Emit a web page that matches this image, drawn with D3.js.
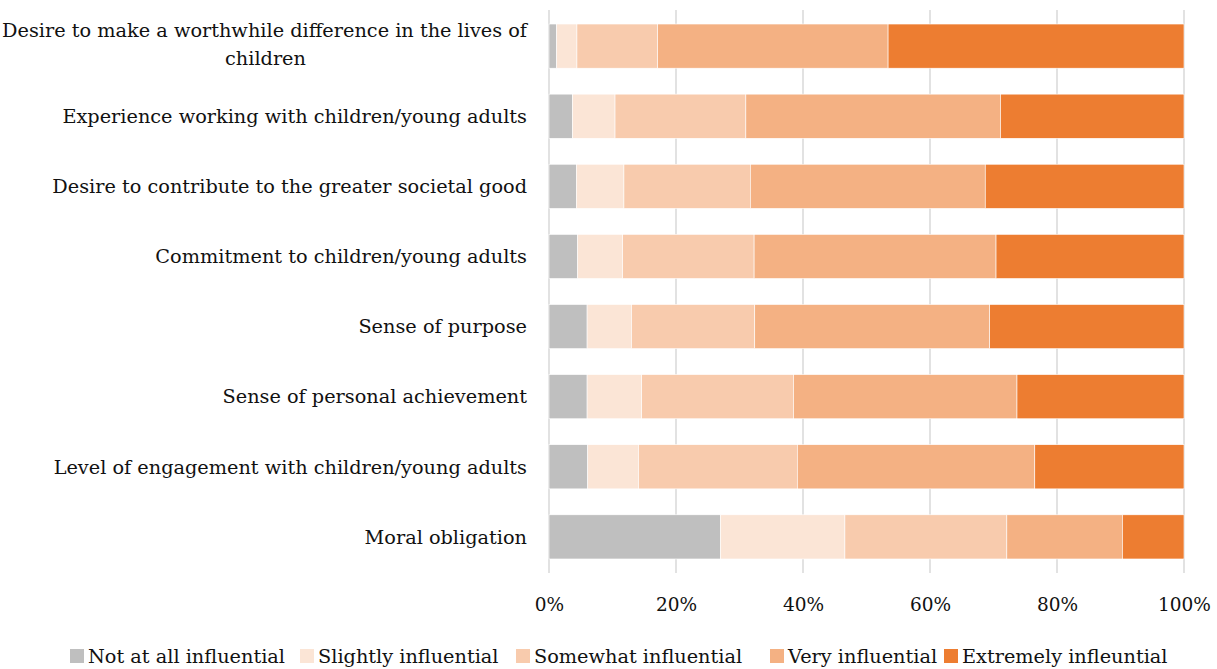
<!DOCTYPE html>
<html>
<head>
<meta charset="utf-8">
<script src="https://cdn.jsdelivr.net/npm/d3@7"></script>
<style>
  body { margin: 0; background: #fff; }
  text { font-family: "DejaVu Serif", serif; fill: #111; }
</style>
</head>
<body>
<div id="plot"></div>
<script>
// categories, top to bottom
var categories = [
  "Desire to make a worthwhile difference in the lives of children",
  "Experience working with children/young adults",
  "Desire to contribute to the greater societal good",
  "Commitment to children/young adults",
  "Sense of purpose",
  "Sense of personal achievement",
  "Level of engagement with children/young adults",
  "Moral obligation"
];

var seriesNames = ["Not at all influential", "Slightly influential", "Somewhat influential", "Very influential", "Extremely infleuntial"];
var seriesColors = ["#bfbfbf", "#fbe5d6", "#f8cbad", "#f4b183", "#ed7d31"];

// percentages
var notAtAll   = [1.2, 3.7, 4.3, 4.5, 6.0, 6.0, 6.1, 27.0];
var slightly   = [3.2, 6.7, 7.5, 7.1, 7.0, 8.6, 8.0, 19.6];
var somewhat   = [12.7, 20.6, 19.9, 20.7, 19.4, 23.9, 25.0, 25.5];
var very       = [36.3, 40.1, 37.0, 38.1, 37.0, 35.2, 37.4, 18.2];
var extremely  = [46.6, 28.9, 31.3, 29.6, 30.6, 26.3, 23.5, 9.7];

var xTicks = [0, 0.2, 0.4, 0.6, 0.8, 1];

var W = 1217, H = 669;
var margin = { top: 10, right: 33, bottom: 96, left: 549 },
    width = W - margin.left - margin.right,
    height = H - margin.top - margin.bottom;

var svg = d3.select("#plot").append("svg")
    .attr("width", W)
    .attr("height", H);

var g = svg.append("g")
    .attr("transform", "translate(" + margin.left + "," + margin.top + ")");

// build rows, normalised to 100%
var rows = categories.map(function (c, i) {
  var vals = [notAtAll[i], slightly[i], somewhat[i], very[i], extremely[i]];
  var tot = d3.sum(vals);
  var r = { cat: c };
  seriesNames.forEach(function (s, j) { r[s] = vals[j] / tot; });
  return r;
});

var stack = d3.stack().keys(seriesNames);
var layers = stack(rows);

var xScale = d3.scaleLinear().domain([0, 1]).range([0, width]);
var yScale = d3.scaleBand().domain(categories).range([0, height]).paddingInner(0.37).paddingOuter(0.2);

// gridlines
g.append("g").selectAll("line")
  .data(xTicks)
  .enter().append("line")
  .attr("x1", function (d) { return xScale(d); })
  .attr("x2", function (d) { return xScale(d); })
  .attr("y1", 0)
  .attr("y2", height)
  .attr("stroke", "#d9d9d9")
  .attr("stroke-width", 1.5);

// bars
g.append("g").selectAll("g")
  .data(layers)
  .enter().append("g")
  .attr("fill", function (d, i) { return seriesColors[i]; })
  .selectAll("rect")
  .data(function (d) { return d; })
  .enter().append("rect")
  .attr("x", function (d) { return xScale(d[0]); })
  .attr("y", function (d) { return yScale(d.data.cat); })
  .attr("width", function (d) { return xScale(d[1]) - xScale(d[0]); })
  .attr("height", yScale.bandwidth())
  .attr("stroke", "#fff")
  .attr("stroke-width", 0.6);

// x axis
var xAxis = d3.axisBottom(xScale).tickValues(xTicks).tickFormat(d3.format(".0%")).tickSize(0).tickPadding(25);
var xg = g.append("g")
  .attr("transform", "translate(0," + height + ")")
  .call(xAxis);
xg.select(".domain").remove();
xg.selectAll("text").style("font-size", "18.5px").style("font-family", "DejaVu Serif, serif").attr("fill", "#111");

// y labels
var fs = "19.3px";
var labelX = -22;
var yl = g.append("g");
categories.forEach(function (c, i) {
  var cy = yScale(c) + yScale.bandwidth() / 2;
  if (i === 0) {
    var t = yl.append("text")
      .attr("x", labelX)
      .attr("y", cy - 16)
      .attr("dy", "0.35em")
      .attr("text-anchor", "end")
      .style("font-size", fs)
      .text("Desire to make a worthwhile difference in the lives of");
    var bb = t.node().getBBox();
    yl.append("text")
      .attr("x", bb.x + bb.width / 2)
      .attr("y", cy + 12)
      .attr("dy", "0.35em")
      .attr("text-anchor", "middle")
      .style("font-size", fs)
      .text("children");
  } else {
    yl.append("text")
      .attr("x", labelX)
      .attr("y", cy)
      .attr("dy", "0.35em")
      .attr("text-anchor", "end")
      .style("font-size", fs)
      .text(c);
  }
});

// legend
var legendX = [70, 300, 516, 770, 944];
var legend = svg.append("g").attr("transform", "translate(0," + 656 + ")");
seriesNames.forEach(function (s, i) {
  legend.append("rect")
    .attr("x", legendX[i])
    .attr("y", -7)
    .attr("width", 14)
    .attr("height", 14)
    .attr("fill", seriesColors[i]);
  legend.append("text")
    .attr("x", legendX[i] + 18)
    .attr("y", 0)
    .attr("dy", "0.35em")
    .style("font-size", "19.3px")
    .text(s);
});
</script>
</body>
</html>
